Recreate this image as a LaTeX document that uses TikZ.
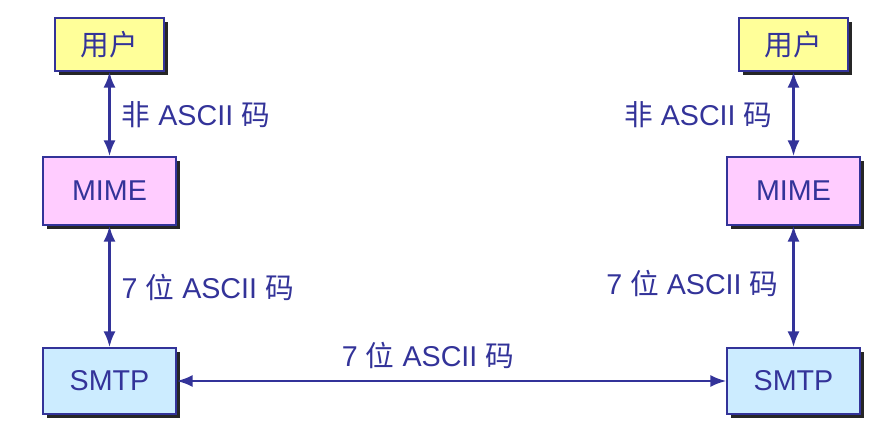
\documentclass[tikz,border=0pt]{standalone}
\usepackage{fontspec}
\setmainfont{Liberation Sans}
\newfontfamily\cjk{Noto Sans CJK SC}
\usetikzlibrary{arrows.meta, shadows, positioning}
\definecolor{ink}{HTML}{333399}
\definecolor{userfill}{HTML}{FFFF99}
\definecolor{mimefill}{HTML}{FFCCFF}
\definecolor{smtpfill}{HTML}{CCECFF}

\begin{document}
\begin{tikzpicture}[x=0.75pt, y=-0.75pt,
    every node/.style={font=\fontsize{21.5pt}{25pt}\selectfont, text=ink},
    box/.style={draw=ink, line width=0.9pt, inner sep=0pt,
        drop shadow={shadow xshift=3pt, shadow yshift=-3pt, fill=black, opacity=0.85}},
    userbox/.style={box, fill=userfill, minimum width=81.75pt, minimum height=39.75pt},
    mimebox/.style={box, fill=mimefill, minimum width=99.75pt, minimum height=51pt},
    smtpbox/.style={box, fill=smtpfill, minimum width=99.75pt, minimum height=49.5pt},
    link/.style={draw=ink, line width=2.2pt, {Latex[length=12pt,width=9pt]}-{Latex[length=12pt,width=9pt]}}]
        \useasboundingbox (0,0) rectangle (895,445);

        % Left side
        \node[userbox] (userL) at (109.5,44.5) {\cjk 用户};
        \node[mimebox] (mimeL) at (109.5,191) {MIME};
        \node[smtpbox] (smtpL) at (109.5,381) {SMTP};

        % Right side
        \node[userbox] (userR) at (793.5,44.5) {\cjk 用户};
        \node[mimebox] (mimeR) at (793.5,191) {MIME};
        \node[smtpbox] (smtpR) at (793.5,381) {SMTP};

        % Arrows
        \draw[link] (userL) -- (mimeL);
        \draw[link] (mimeL) -- (smtpL);
        \draw[link] (userR) -- (mimeR);
        \draw[link] (mimeR) -- (smtpR);
        \draw[link, line width=1.8pt] (smtpL) -- (smtpR);

        % Labels
        \node[anchor=west] (lblL1) at (117,115) {{\cjk 非} ASCII {\cjk 码}};
        \node[anchor=west] (lblL2) at (117,287) {7 {\cjk 位} ASCII {\cjk 码}};
        \node[anchor=east] (lblR1) at (777,115) {{\cjk 非} ASCII {\cjk 码}};
        \node[anchor=east] (lblR2) at (783,283) {7 {\cjk 位} ASCII {\cjk 码}};
        \node (lblM) at (428,355) {7 {\cjk 位} ASCII {\cjk 码}};
    \end{tikzpicture}
\end{document}
